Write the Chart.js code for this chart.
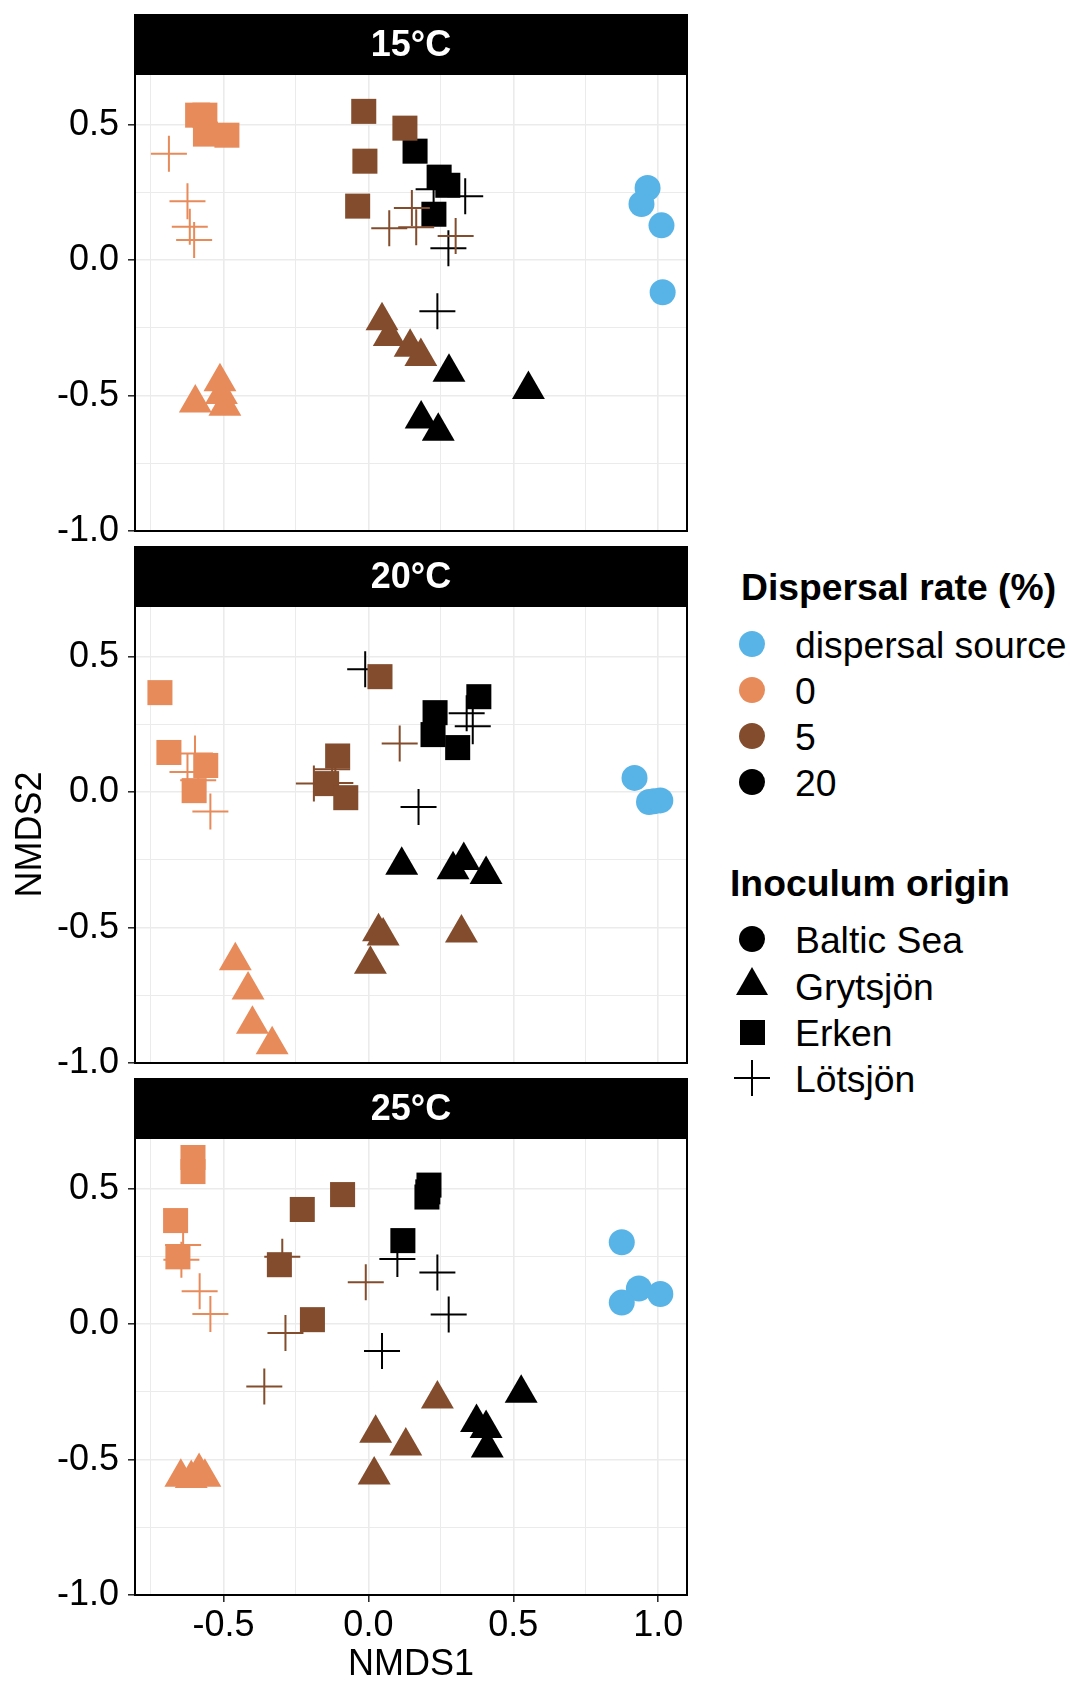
<!DOCTYPE html>
<html>
<head>
<meta charset="utf-8">
<script src="https://cdn.jsdelivr.net/npm/chart.js@4.4.1/dist/chart.umd.min.js"></script>
<style>
  html, body { margin: 0; padding: 0; background: #fff; }
  #page { position: relative; width: 1070px; height: 1683px; overflow: hidden;
          font-family: 'Liberation Sans', Arial, Helvetica, sans-serif; }
  #page canvas { position: absolute; left: 0; }
  .leg { position: absolute; font-size: 37.3px; line-height: 40px; color: #000; white-space: nowrap; }
  .leg.title { font-weight: bold; }
  .key { position: absolute; }
</style>
</head>
<body>
<div id="page">
  <canvas id="p15" width="690" height="539" style="top:14px"></canvas>
  <canvas id="p20" width="690" height="539" style="top:546px"></canvas>
  <canvas id="p25" width="690" height="605" style="top:1078px"></canvas>
</div>
<script>
// ---------- data ----------
const panelLabels = ['15°C', '20°C', '25°C'];

const rates = ['dispersal source', '0', '5', '20'];
const rateColours = ['#58B4E7', '#E88B5A', '#834C2C', '#000000'];
const origins = ['Baltic Sea', 'Grytsjön', 'Erken', 'Lötsjön'];
const originShapes = ['circle', 'triangle', 'rect', 'cross'];

// each group = one dispersal rate x inoculum origin, 4 replicates
const groupRate   = [0, 1, 1, 1, 2, 2, 2, 3, 3, 3];
const groupOrigin = [0, 1, 2, 3, 1, 2, 3, 1, 2, 3];

const nmds1_15 = [
  [0.963, 0.942, 1.011, 1.015],
  [-0.512, -0.597, -0.507, -0.495],
  [-0.589, -0.564, -0.562, -0.488],
  [-0.688, -0.624, -0.616, -0.601],
  [0.047, 0.072, 0.144, 0.181],
  [-0.016, 0.126, -0.012, -0.037],
  [0.150, 0.072, 0.165, 0.301],
  [0.278, 0.552, 0.182, 0.241],
  [0.161, 0.244, 0.274, 0.226],
  [0.225, 0.334, 0.276, 0.238],
];
const nmds2_15 = [
  [0.267, 0.208, 0.129, -0.118],
  [-0.449, -0.527, -0.496, -0.539],
  [0.536, 0.536, 0.466, 0.462],
  [0.393, 0.218, 0.124, 0.075],
  [-0.223, -0.282, -0.321, -0.355],
  [0.550, 0.488, 0.366, 0.200],
  [0.193, 0.118, 0.122, 0.090],
  [-0.414, -0.477, -0.586, -0.632],
  [0.403, 0.307, 0.277, 0.170],
  [0.262, 0.236, 0.044, -0.188],
];

const nmds1_20 = [
  [0.918, 0.968, 0.985, 1.007],
  [-0.459, -0.415, -0.400, -0.332],
  [-0.719, -0.688, -0.561, -0.601],
  [-0.598, -0.624, -0.587, -0.545],
  [0.035, 0.051, 0.321, 0.007],
  [0.040, -0.106, -0.144, -0.078],
  [-0.188, -0.125, -0.114, 0.108],
  [0.115, 0.329, 0.292, 0.406],
  [0.381, 0.230, 0.223, 0.308],
  [-0.011, 0.339, 0.360, 0.173],
];
const nmds2_20 = [
  [0.053, -0.036, -0.033, -0.030],
  [-0.622, -0.730, -0.857, -0.933],
  [0.368, 0.147, 0.099, 0.006],
  [0.143, 0.075, 0.044, -0.071],
  [-0.515, -0.531, -0.520, -0.635],
  [0.427, 0.134, 0.032, -0.020],
  [0.032, 0.085, 0.034, 0.180],
  [-0.270, -0.252, -0.286, -0.304],
  [0.353, 0.294, 0.213, 0.165],
  [0.454, 0.292, 0.244, -0.054],
];

const nmds1_25 = [
  [0.874, 0.933, 1.007, 0.874],
  [-0.647, -0.611, -0.584, -0.564],
  [-0.605, -0.605, -0.665, -0.657],
  [-0.639, -0.645, -0.582, -0.545],
  [0.238, 0.025, 0.129, 0.020],
  [-0.089, -0.228, -0.307, -0.193],
  [-0.297, -0.009, -0.286, -0.359],
  [0.527, 0.373, 0.406, 0.410],
  [0.209, 0.205, 0.202, 0.119],
  [0.100, 0.238, 0.277, 0.047],
];
const nmds2_25 = [
  [0.303, 0.132, 0.112, 0.080],
  [-0.565, -0.570, -0.544, -0.565],
  [0.616, 0.564, 0.383, 0.249],
  [0.293, 0.238, 0.122, 0.038],
  [-0.276, -0.403, -0.450, -0.557],
  [0.479, 0.424, 0.220, 0.017],
  [0.249, 0.155, -0.032, -0.230],
  [-0.255, -0.363, -0.385, -0.457],
  [0.514, 0.489, 0.470, 0.309],
  [0.241, 0.191, 0.036, -0.099],
];

// shared axes of the facets
const xRange = [-0.805, 1.099];
const yRange = [-1.0, 0.688];
const xGrid = [-0.75, -0.5, -0.25, 0, 0.25, 0.5, 0.75, 1.0];
const yGrid = [-1.0, -0.75, -0.5, -0.25, 0, 0.25, 0.5];

// ---------- helpers ----------
const FONT = "'Liberation Sans', Arial, Helvetica, sans-serif";
Chart.defaults.font.family = FONT;
Chart.defaults.font.size = 36;
Chart.defaults.color = '#000';

const STRIP_H = 60;
const isMajor = (v) => Math.abs(v * 2 - Math.round(v * 2)) < 1e-9;
const shapeRadius = { circle: 13, triangle: 19, rect: 17.7, cross: 18 };

// strip on top + black frame round the panel
const panelFrame = {
  id: 'panelFrame',
  beforeDraw(chart, args, opts) {
    const { ctx, chartArea: a } = chart;
    ctx.save();
    ctx.fillStyle = '#000';
    ctx.fillRect(a.left - 1, a.top - STRIP_H, a.right - a.left + 2, STRIP_H);
    ctx.fillStyle = '#fff';
    ctx.font = `bold 36px ${FONT}`;
    ctx.textAlign = 'center';
    ctx.textBaseline = 'middle';
    ctx.fillText(opts.label, (a.left + a.right) / 2, a.top - STRIP_H / 2 + 2);
    ctx.restore();
  },
  afterDraw(chart) {
    const { ctx, chartArea: a } = chart;
    ctx.save();
    ctx.strokeStyle = '#000';
    ctx.lineWidth = 2;
    ctx.strokeRect(a.left, a.top, a.right - a.left, a.bottom - a.top);
    ctx.restore();
  }
};

function makePanel(id, label, xs, ys, isBottom, showYTitle) {
  const datasets = groupRate.map((r, k) => {
    const shape = originShapes[groupOrigin[k]];
    return {
      label: `${rates[r]} / ${origins[groupOrigin[k]]}`,
      data: xs[k].map((x, j) => ({ x, y: ys[k][j] })),
      pointStyle: shape,
      pointRadius: shapeRadius[shape],
      pointHoverRadius: shapeRadius[shape],
      backgroundColor: rateColours[r],
      borderColor: rateColours[r],
      borderWidth: shape === 'cross' ? 2 : 0,
    };
  });

  return new Chart(document.getElementById(id), {
    type: 'scatter',
    data: { datasets },
    plugins: [panelFrame],
    options: {
      responsive: false,
      animation: false,
      layout: {
        autoPadding: false, // keep the panel width fixed, markers may touch the frame
        padding: { left: 0, top: STRIP_H, right: 3, bottom: isBottom ? 0 : 22 },
      },
      plugins: {
        legend: { display: false },
        tooltip: { enabled: false },
        panelFrame: { label },
      },
      scales: {
        x: {
          type: 'linear',
          bounds: 'data',
          min: xRange[0],
          max: xRange[1],
          afterBuildTicks: (s) => { s.ticks = xGrid.map(v => ({ value: v })); },
          afterFit: (s) => { s.height = isBottom ? 88 : 0; s.paddingLeft = 0; s.paddingRight = 0; },
          border: { display: false },
          grid: {
            color: '#ebebeb',
            lineWidth: (c) => (c.tick && isMajor(c.tick.value) ? 1.6 : 1),
            drawTicks: isBottom,
            tickLength: 7,
            tickWidth: 1.5,
            tickColor: (c) => (c.tick && isMajor(c.tick.value) ? '#222' : 'rgba(0,0,0,0)'),
          },
          ticks: {
            display: isBottom,
            padding: 2,
            maxRotation: 0,
            autoSkip: false,
            callback: (v) => (isMajor(v) ? v.toFixed(1) : ''),
          },
          title: { display: isBottom, text: 'NMDS1', padding: 0, font: { size: 36, lineHeight: 1.0 } },
        },
        y: {
          type: 'linear',
          bounds: 'data',
          min: yRange[0],
          max: yRange[1],
          afterBuildTicks: (s) => { s.ticks = yGrid.map(v => ({ value: v })); },
          afterFit: (s) => { s.width = 135; s.paddingTop = 0; s.paddingBottom = 0; },
          border: { display: false },
          grid: {
            color: '#ebebeb',
            lineWidth: (c) => (c.tick && isMajor(c.tick.value) ? 1.6 : 1),
            drawTicks: true,
            tickLength: 7,
            tickWidth: 1.5,
            tickColor: (c) => (c.tick && isMajor(c.tick.value) ? '#222' : 'rgba(0,0,0,0)'),
          },
          ticks: {
            padding: 9,
            autoSkip: false,
            callback: (v) => (isMajor(v) ? v.toFixed(1) : ''),
          },
          title: { display: showYTitle, text: 'NMDS2', padding: { top: 9, bottom: 0 } },
        },
      },
    },
  });
}

makePanel('p15', panelLabels[0], nmds1_15, nmds2_15, false, false);
makePanel('p20', panelLabels[1], nmds1_20, nmds2_20, false, true);
makePanel('p25', panelLabels[2], nmds1_25, nmds2_25, true, false);

// ---------- legends ----------
const page = document.getElementById('page');
const KEY_X = 752;
const LABEL_X = 795;

function addText(text, left, cy, cls) {
  const d = document.createElement('div');
  d.className = 'leg' + (cls ? ' ' + cls : '');
  d.textContent = text;
  d.style.left = left + 'px';
  d.style.top = (cy - 20) + 'px';
  page.appendChild(d);
}

function addKey(shape, colour, cy) {
  const mk = (css) => {
    const k = document.createElement('div');
    k.className = 'key';
    Object.assign(k.style, css);
    page.appendChild(k);
  };
  if (shape === 'circle') {
    mk({ left: (KEY_X - 13) + 'px', top: (cy - 13) + 'px', width: '26px', height: '26px',
         borderRadius: '50%', background: colour });
  } else if (shape === 'rect') {
    mk({ left: (KEY_X - 12.5) + 'px', top: (cy - 12.5) + 'px', width: '25px', height: '25px',
         background: colour });
  } else if (shape === 'triangle') {
    mk({ left: (KEY_X - 16.5) + 'px', top: (cy - 19) + 'px', width: 0, height: 0,
         borderLeft: '16.5px solid transparent', borderRight: '16.5px solid transparent',
         borderBottom: '28.5px solid ' + colour });
  } else {
    mk({ left: (KEY_X - 18) + 'px', top: (cy - 1) + 'px', width: '36px', height: '2px', background: colour });
    mk({ left: (KEY_X - 1) + 'px', top: (cy - 18) + 'px', width: '2px', height: '36px', background: colour });
  }
}

const rateKeyY = [644, 690, 736, 782];
const originKeyY = [939, 986, 1032, 1078];

addText('Dispersal rate (%)', 741, 587, 'title');
rates.forEach((r, i) => {
  addKey('circle', rateColours[i], rateKeyY[i]);
  addText(r, LABEL_X, rateKeyY[i] + 1);
});

addText('Inoculum origin', 730, 883, 'title');
origins.forEach((o, i) => {
  addKey(originShapes[i], '#000', originKeyY[i]);
  addText(o, LABEL_X, originKeyY[i] + 1);
});
</script>
</body>
</html>
